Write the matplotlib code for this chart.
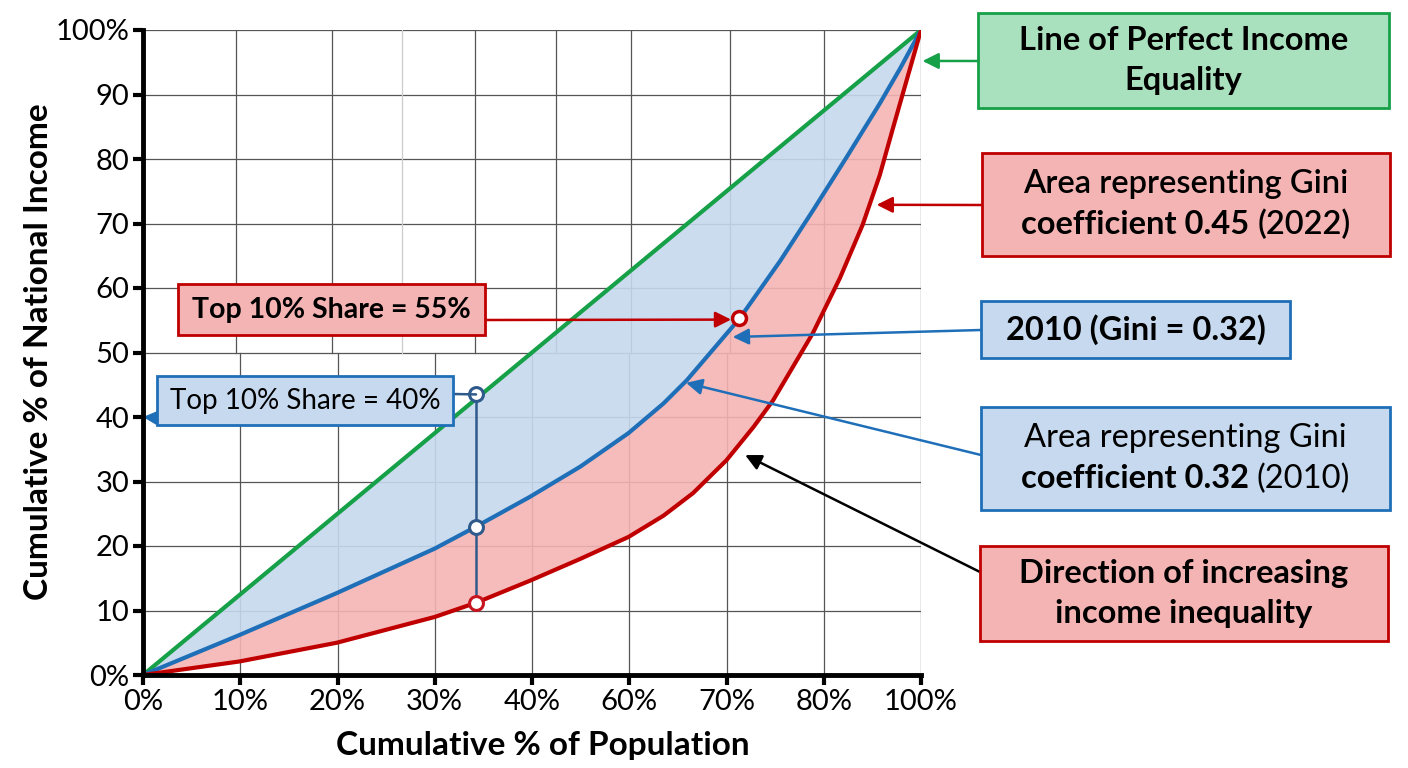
import numpy as np
import matplotlib
matplotlib.use("Agg")
import matplotlib.pyplot as plt
from matplotlib.patches import Rectangle
from matplotlib.offsetbox import TextArea, HPacker, VPacker, AnnotationBbox

plt.rcParams['font.family'] = ['Lato', 'DejaVu Sans']

# axis positions: x runs 0..100 across the plot, ticks are evenly spaced
x_tick_pos = np.linspace(0, 100, 9)
x_tick_labels = ['0%', '10%', '20%', '30%', '40%', '60%', '70%', '80%', '100%']
y_tick_pos = np.arange(0, 101, 10)
y_tick_labels = ['0%', '10', '20', '30', '40', '50', '60', '70', '80', '90', '100%']

# line of equality
equal_x = [0, 100]
equal_y = [0, 100]

# 2010 Lorenz curve (blue)
blue_x = [0, 12.4, 24.9, 37.5, 42.8, 49.7, 56.2, 62.4, 66.9, 69.9, 76.7, 81.9, 86.1, 90.5, 94.7, 97.3, 100]
blue_y = [0, 6.2, 12.7, 19.6, 23.0, 27.6, 32.3, 37.5, 42.1, 45.7, 55.3, 64.2, 72.0, 80.4, 88.6, 94.0, 100]

# 2022 Lorenz curve (red)
red_x = [0, 12.4, 24.9, 37.5, 42.8, 49.7, 56.2, 62.4, 66.9, 70.7, 75.0, 78.5, 81.0,
         86.1, 89.6, 92.5, 94.7, 96.4, 98.2, 100]
red_y = [0, 2.1, 5.0, 9.0, 11.2, 14.6, 18.0, 21.4, 24.7, 28.2, 33.3, 38.5, 42.6,
         53.0, 61.6, 69.8, 77.5, 84.8, 92.4, 100]

# highlighted points
mark_x = 42.8
mark_equal, mark_blue, mark_red = 43.5, 23.0, 11.2
top55_x, top55_y = 76.6, 55.3

# upper half of the grid is drawn at slightly different columns
upper_grid = [12.0, 24.3, 42.7, 53.1, 62.7, 75.4, 87.5, 100]
upper_grid_light = [33.3]

GREEN = '#16a048'
BLUE = '#1f6fb8'
RED = '#c00000'
NAVY = '#2f5a8c'
FILL_BLUE = '#c6d9ee'
FILL_RED = '#f5b4b4'

W, H = 1408, 768
fig = plt.figure(figsize=(W / 100, H / 100), dpi=100)
ax = fig.add_axes([143 / W, 1 - 675 / H, (921 - 143) / W, (675 - 30) / H])
ax.set_xlim(0, 100)
ax.set_ylim(0, 100)

# grid
for y in y_tick_pos[1:]:
    ax.axhline(y, color='#555555', lw=0.9, zorder=1)
for x in x_tick_pos[1:]:
    ax.axvline(x, ymin=0, ymax=0.5, color='#555555', lw=0.9, zorder=1)
for x in upper_grid:
    ax.axvline(x, ymin=0.5, ymax=1, color='#555555', lw=0.9, zorder=1)
for x in upper_grid_light:
    ax.axvline(x, ymin=0.5, ymax=1, color='#cccccc', lw=0.9, zorder=1)

# shaded areas
ax.fill(np.concatenate([blue_x, equal_x[::-1]]), np.concatenate([blue_y, equal_y[::-1]]),
        color=FILL_BLUE, lw=0, alpha=0.9, zorder=2)
ax.fill(np.concatenate([blue_x, red_x[::-1]]), np.concatenate([blue_y, red_y[::-1]]),
        color=FILL_RED, lw=0, alpha=0.9, zorder=2)

ax.plot(equal_x, equal_y, color=GREEN, lw=3, zorder=4, solid_capstyle='round')
ax.plot(blue_x, blue_y, color=BLUE, lw=3, zorder=4, solid_joinstyle='round')
ax.plot(red_x, red_y, color=RED, lw=3, zorder=4, solid_joinstyle='round')

# vertical connector and markers
ax.plot([mark_x, mark_x], [mark_red, mark_equal], color=NAVY, lw=1.8, zorder=5)
ax.plot([mark_x, mark_x], [mark_equal, mark_blue], 'o', ms=10, mfc='white', mec=NAVY, mew=2.2, zorder=6)
ax.plot([mark_x], [mark_red], 'o', ms=10, mfc='white', mec='#c8141e', mew=2.2, zorder=6)
ax.plot([top55_x], [top55_y], 'o', ms=10, mfc='white', mec=RED, mew=2.5, zorder=6)

# axes styling
for side in ['top', 'right']:
    ax.spines[side].set_visible(False)
for side in ['left', 'bottom']:
    ax.spines[side].set_linewidth(3.5)
    ax.spines[side].set_zorder(7)
ax.set_xticks(x_tick_pos)
ax.set_xticklabels(x_tick_labels)
ax.set_yticks(y_tick_pos)
ax.set_yticklabels(y_tick_labels)
ax.tick_params(direction='out', length=7, width=3, labelsize=21, pad=3)

fig.text(39 / W, 1 - 352 / H, 'Cumulative % of National Income', rotation=90,
         ha='center', va='center', fontsize=24, fontweight='bold')
fig.text(543 / W, 1 - 745 / H, 'Cumulative % of Population',
         ha='center', va='center', fontsize=24, fontweight='bold')


def fp(x, y):
    return (x, H - y)


def box(x0, y0, x1, y1, face, edge, lines, size=23.5, sep=8):
    fig.add_artist(Rectangle((x0 / W, 1 - y1 / H), (x1 - x0) / W, (y1 - y0) / H,
                             transform=fig.transFigure, facecolor=face,
                             edgecolor=edge, lw=2, zorder=8))
    rows = []
    for parts in lines:
        kids = [TextArea(t, textprops=dict(fontsize=size, fontweight=w, color='black'))
                for t, w in parts]
        rows.append(HPacker(children=kids, align='baseline', pad=0, sep=6))
    pack = VPacker(children=rows, align='center', pad=0, sep=sep)
    ab = AnnotationBbox(pack, ((x0 + x1) / 2 / W, 1 - (y0 + y1) / 2 / H),
                        xycoords='figure fraction', frameon=False,
                        box_alignment=(0.5, 0.5), zorder=9)
    fig.add_artist(ab)


def arrow(tail, head, color, lw=1.8, scale=24, style='-|>'):
    ax.annotate('', xy=head, xycoords='data', xytext=fp(*tail), textcoords='figure pixels',
                arrowprops=dict(arrowstyle=style, color=color, lw=lw, mutation_scale=scale,
                                shrinkA=0, shrinkB=0), zorder=7, annotation_clip=False)


# arrows from the note boxes
arrow((980, 61), (100.2, 95.2), GREEN)
arrow((982, 205), (94.3, 72.9), RED)
arrow((981, 330), (75.8, 52.4), BLUE)
arrow((981, 455), (69.8, 45.3), BLUE)
arrow((980, 572), (77.4, 34.1), 'black')
arrow((485, 320), (75.6, 55.1), RED)
arrow((157, 418), (0, 40), BLUE, scale=20)
arrow((453, 394), (mark_x, mark_equal), NAVY, style='-')

box(978, 13, 1389, 108, '#a9e0bd', GREEN,
    [[('Line of Perfect Income', 'bold')], [('Equality', 'bold')]])
box(982, 153, 1390, 256, FILL_RED, RED,
    [[('Area representing Gini', 'semibold')],
     [('coefficient 0.45', 'bold'), ('(2022)', 'semibold')]])
box(981, 301, 1290, 358, FILL_BLUE, BLUE, [[('2010 (Gini = 0.32)', 'bold')]])
box(981, 407, 1390, 510, FILL_BLUE, BLUE,
    [[('Area representing Gini', 'normal')],
     [('coefficient 0.32', 'bold'), ('(2010)', 'normal')]])
box(980, 546, 1388, 641, FILL_RED, RED,
    [[('Direction of increasing', 'bold')], [('income inequality', 'bold')]])
box(178, 284, 485, 335, FILL_RED, RED, [[('Top 10% Share = 55%', 'bold')]], size=20.5)
box(157, 376, 453, 425, FILL_BLUE, BLUE, [[('Top 10% Share = 40%', 'normal')]], size=20)

fig.savefig('out.png', dpi=100)
